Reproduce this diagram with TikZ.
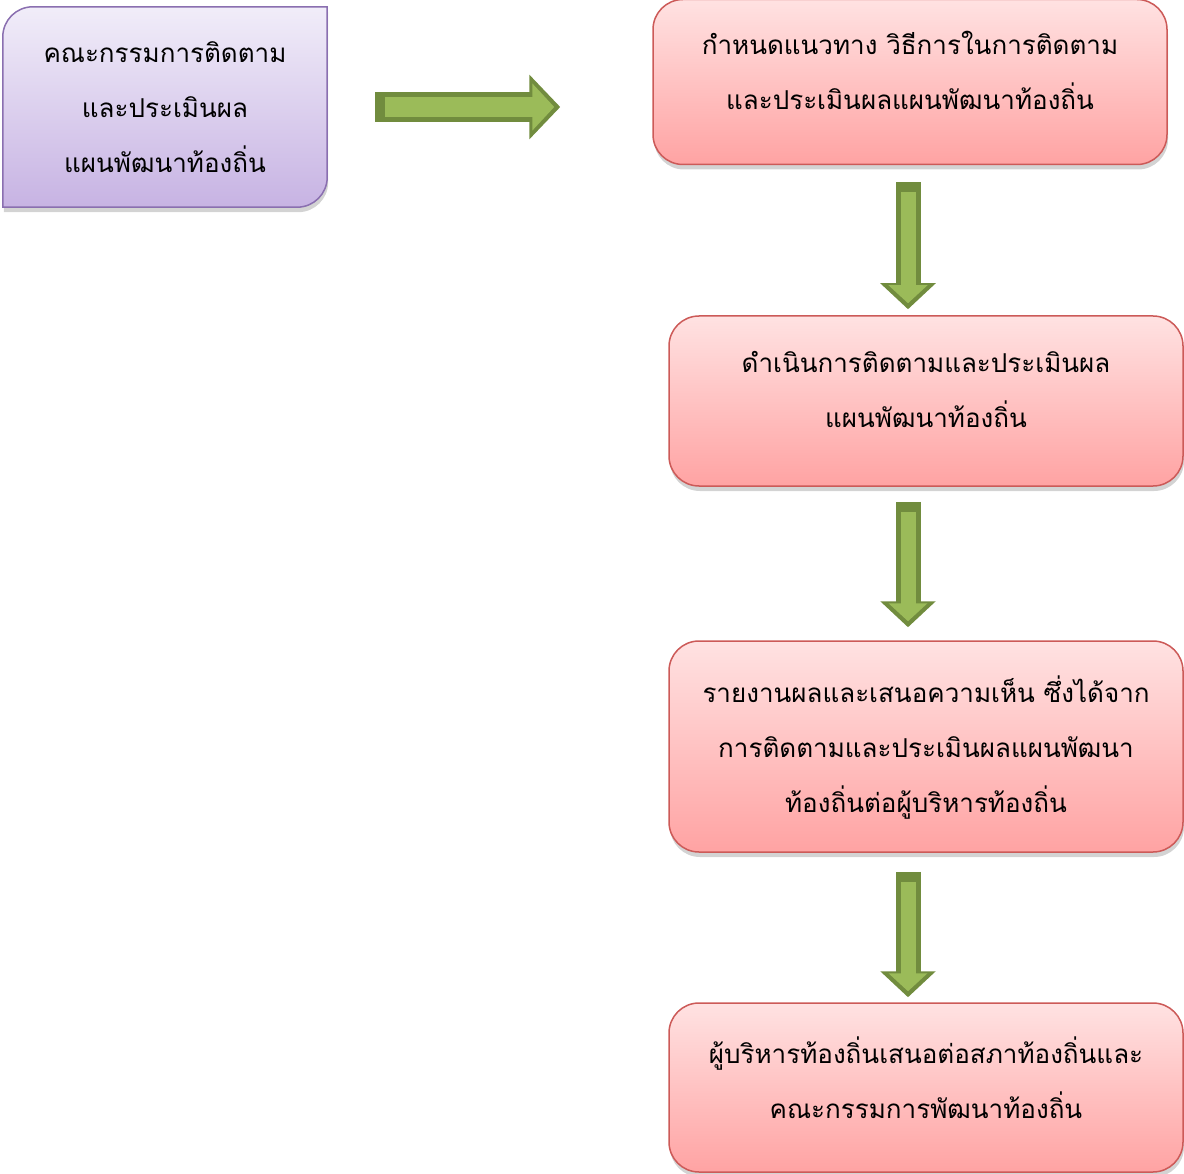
\documentclass[tikz,border=0pt]{standalone}
\usepackage{fontspec}
\newfontfamily\thaifont[Script=Thai]{Loma}
\usetikzlibrary{arrows.meta,shadows,calc}

\definecolor{pinktop}{HTML}{FFE2E2}
\definecolor{pinkbot}{HTML}{FFA3A3}
\definecolor{pinkline}{HTML}{CC5A58}
\definecolor{purptop}{HTML}{F1EDF9}
\definecolor{purpbot}{HTML}{C7B3E3}
\definecolor{purpline}{HTML}{8A6FB0}
\definecolor{arrowdark}{HTML}{718C3E}
\definecolor{arrowlight}{HTML}{9BBB59}

\tikzset{
  stepbox/.style={draw=pinkline, line width=1.5pt, rounded corners=30pt,
    top color=pinktop, bottom color=pinkbot, minimum width=514pt,
    align=center, font=\thaifont\fontsize{26}{55}\selectfont,
    drop shadow={shadow xshift=1pt, shadow yshift=-5pt, opacity=0.35}},
  flowdown/.style={draw=arrowdark, line width=25pt, -{Triangle[length=26pt,width=54pt]},
    postaction={draw=arrowlight, line width=15pt, shorten <=10pt, shorten >=6pt,
      -{Triangle[length=18pt,width=38pt]}}},
  flowright/.style={draw=arrowdark, line width=30pt, -{Triangle[length=31pt,width=63pt]},
    postaction={draw=arrowlight, line width=20pt, shorten <=10pt, shorten >=6pt,
      -{Triangle[length=22pt,width=46pt]}}}
}

\begin{document}
\begin{tikzpicture}[x=1pt, y=-1pt]

    % Fix the page size
    \useasboundingbox (0,0) rectangle (1184,1174);

    % Column of the down arrows
    \coordinate (col) at (908,0);

    % The committee box (purple, two rounded corners)
    \node[minimum width=324pt, minimum height=200pt] (comm) at (165,107) {};
    \path[draw=purpline, line width=1.5pt, top color=purptop, bottom color=purpbot,
      drop shadow={shadow xshift=1pt, shadow yshift=-5pt, opacity=0.35}]
      (comm.north east) -- ([yshift=30pt]comm.south east) arc (0:-90:30pt)
      -- (comm.south west) -- ([yshift=-30pt]comm.north west) arc (180:90:30pt) -- cycle;
    \node[align=center, font=\thaifont\fontsize{26}{55}\selectfont] (commtext) at (comm.center)
      {คณะกรรมการติดตาม\\และประเมินผล\\แผนพัฒนาท้องถิ่น};

    % The steps (the short last line lifts the text a little)
    \node[stepbox, minimum height=165pt] (plan) at (910,82)
      {กำหนดแนวทาง วิธีการในการติดตาม\\และประเมินผลแผนพัฒนาท้องถิ่น\\[-31pt]};
    \node[stepbox, minimum height=170pt] (run) at (926,401)
      {ดำเนินการติดตามและประเมินผล\\แผนพัฒนาท้องถิ่น\\[-31pt]};
    \node[stepbox, minimum height=211pt] (report) at (926,746.5)
      {รายงานผลและเสนอความเห็น ซึ่งได้จาก\\การติดตามและประเมินผลแผนพัฒนา\\ท้องถิ่นต่อผู้บริหารท้องถิ่น\\[-50pt]};
    \node[stepbox, minimum height=169pt] (council) at (926,1087.5)
      {ผู้บริหารท้องถิ่นเสนอต่อสภาท้องถิ่นและ\\คณะกรรมการพัฒนาท้องถิ่น\\[-35pt]};

    % The arrows
    \draw[flowright] ([xshift=48pt]comm.east) -- ([xshift=-92pt]comm.east -| plan.west);
    \draw[flowdown] ([yshift=-17pt]col |- plan.south) -- ([yshift=6pt]col |- run.north);
    \draw[flowdown] ([yshift=-15pt]col |- run.south) -- ([yshift=13pt]col |- report.north);
    \draw[flowdown] ([yshift=-19pt]col |- report.south) -- ([yshift=5pt]col |- council.north);

\end{tikzpicture}
\end{document}
